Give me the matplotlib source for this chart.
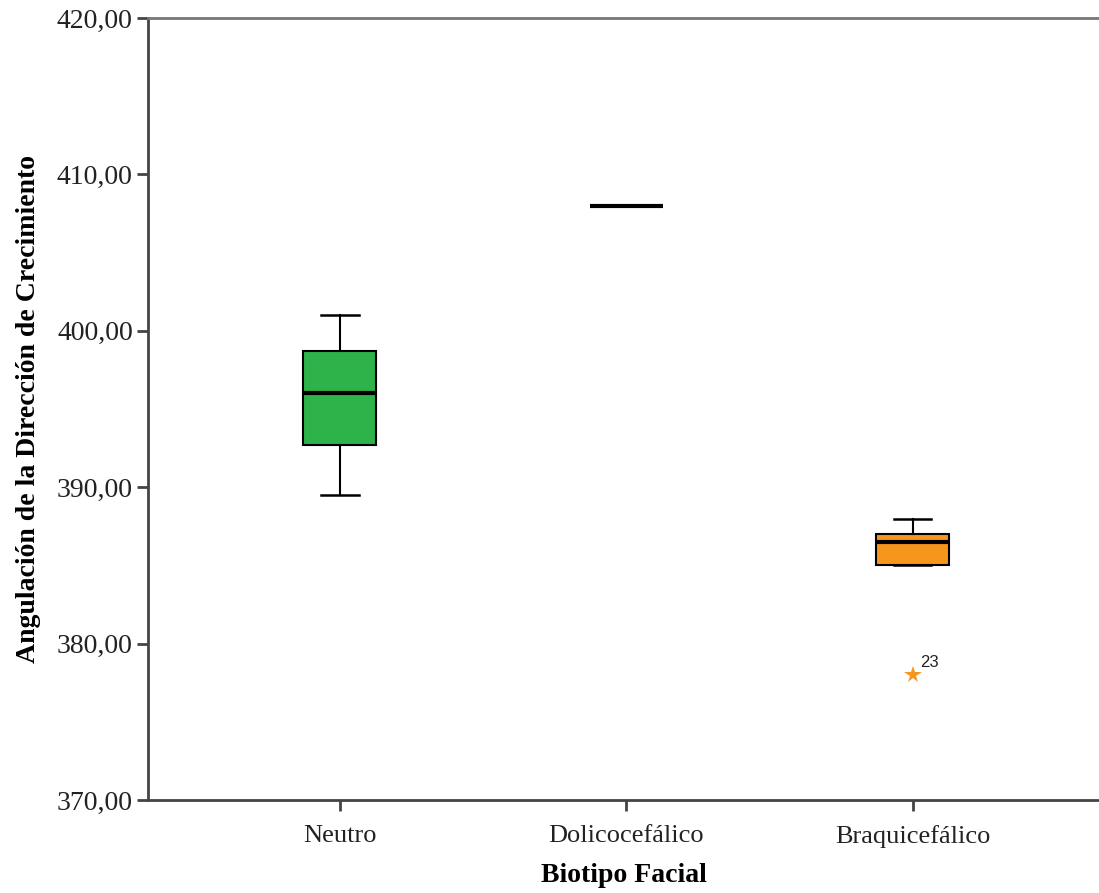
import matplotlib
matplotlib.use("Agg")
import matplotlib.pyplot as plt

# datos
categorias = ["Neutro", "Dolicocefálico", "Braquicefálico"]
minimos = [389.5, 408.0, 385.0]
q1 = [392.7, 408.0, 385.0]
medianas = [396.0, 408.0, 386.5]
q3 = [398.7, 408.0, 387.0]
maximos = [401.0, 408.0, 388.0]
atipicos = [[], [], [378.0]]
etiquetas_atipicos = [[], [], ["23"]]
colores = ["#2db34a", "#2db34a", "#f7961d"]

fig = plt.figure(figsize=(10.99, 8.93), dpi=100)
ax = fig.add_axes([0.1347, 0.1041, 0.8653, 0.8757])

stats = []
for i in range(len(categorias)):
    stats.append({
        "label": categorias[i],
        "whislo": minimos[i],
        "q1": q1[i],
        "med": medianas[i],
        "q3": q3[i],
        "whishi": maximos[i],
        "fliers": [],
    })

pos = list(range(len(categorias)))
bp = ax.bxp(stats, positions=pos, widths=0.255, patch_artist=True,
            showfliers=False,
            boxprops=dict(edgecolor="black", linewidth=1.5),
            medianprops=dict(color="black", linewidth=3),
            whiskerprops=dict(color="black", linewidth=1.5),
            capprops=dict(color="black", linewidth=1.8),
            capwidths=0.13)
for caja, c in zip(bp["boxes"], colores):
    caja.set_facecolor(c)

for i, (vals, etqs) in enumerate(zip(atipicos, etiquetas_atipicos)):
    for v, t in zip(vals, etqs):
        ax.plot(pos[i], v, marker="*", color=colores[i], markersize=13,
                markeredgewidth=0, linestyle="none")
        ax.annotate(t, (pos[i], v), xytext=(5, 6), textcoords="offset points",
                    fontsize=12, family="Liberation Sans", color="#222222")

ax.set_xlim(-0.67, 2.65)
ax.set_ylim(370, 420)
ax.set_yticks([370, 380, 390, 400, 410, 420])
ax.set_yticklabels([f"{v:.2f}".replace(".", ",") for v in [370, 380, 390, 400, 410, 420]])
ax.set_xticks(pos)
ax.set_xticklabels(categorias)

for lbl in ax.get_yticklabels():
    lbl.set_family("Liberation Serif")
    lbl.set_fontsize(20)
    lbl.set_color("#222222")
for lbl in ax.get_xticklabels():
    lbl.set_family("Liberation Serif")
    lbl.set_fontsize(19)
    lbl.set_color("#222222")

ax.set_xlabel("Biotipo Facial", family="Liberation Serif", fontsize=20,
              fontweight="bold", labelpad=11)
ax.set_ylabel("Angulación de la Dirección de Crecimiento", family="Liberation Serif",
              fontsize=20, fontweight="bold", labelpad=11)

ax.spines["right"].set_visible(False)
for s in ["left", "bottom"]:
    ax.spines[s].set_color("#444444")
    ax.spines[s].set_linewidth(2)
ax.spines["top"].set_color("#777777")
ax.spines["top"].set_linewidth(2)
ax.tick_params(direction="out", length=8, width=2, color="#444444", pad=3)
ax.tick_params(axis="x", pad=10)

fig.savefig("out.png", dpi=100)
